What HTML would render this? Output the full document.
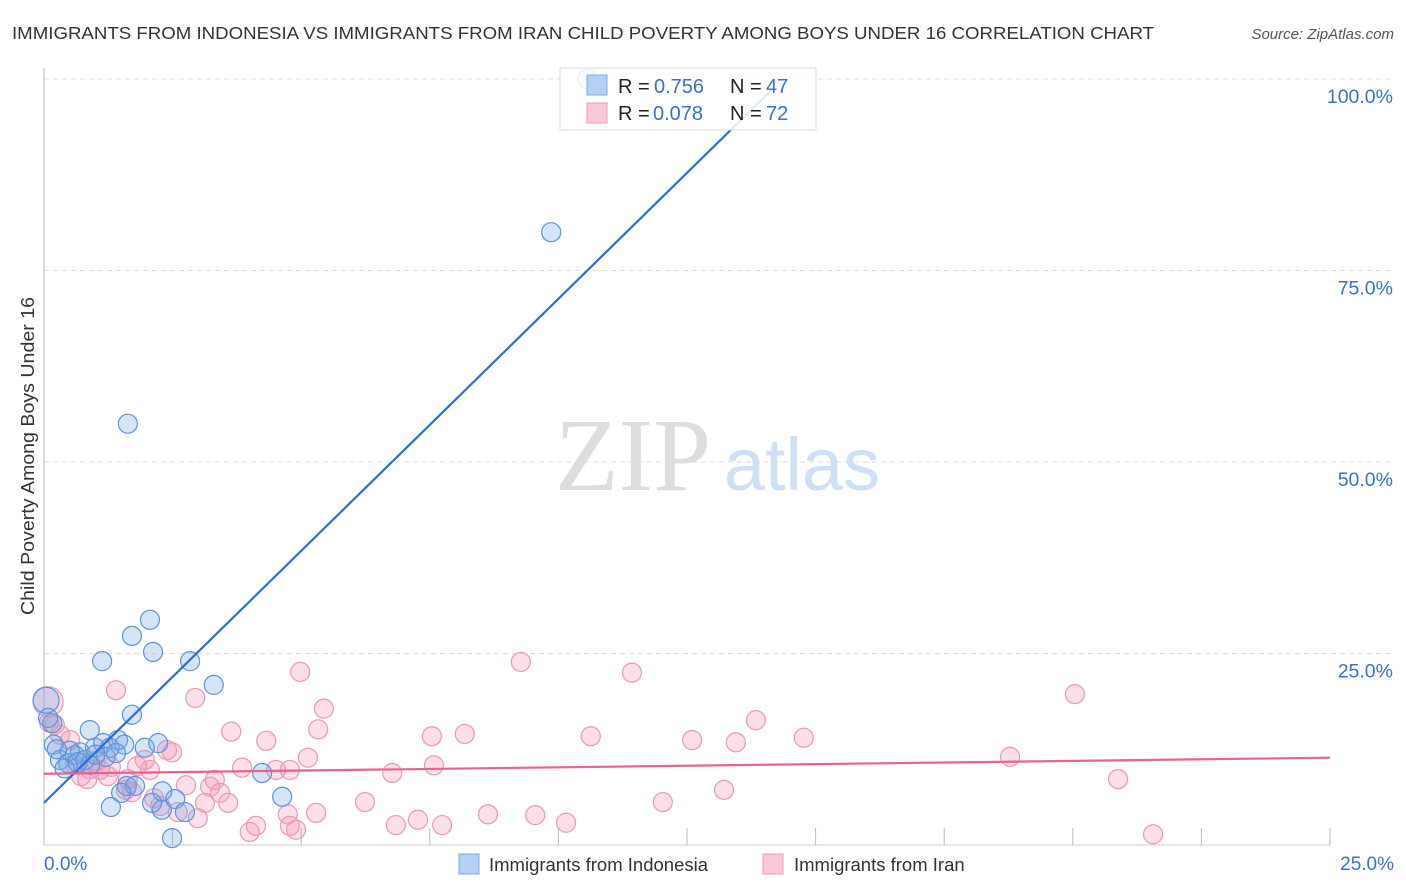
<!DOCTYPE html>
<html><head><meta charset="utf-8"><style>
body{margin:0;background:#fff;font-family:"Liberation Sans",sans-serif;}
svg{display:block}
</style></head><body>
<svg id="chart" width="1406" height="892">
<text x="12" y="39" font-size="17.5" fill="#333" textLength="1142" lengthAdjust="spacingAndGlyphs">IMMIGRANTS FROM INDONESIA VS IMMIGRANTS FROM IRAN CHILD POVERTY AMONG BOYS UNDER 16 CORRELATION CHART</text>
<text x="1394" y="39" font-size="15" fill="#555" font-style="italic" text-anchor="end">Source: ZipAtlas.com</text>
<text transform="translate(34,456) rotate(-90)" font-size="18" fill="#333" text-anchor="middle" textLength="318" lengthAdjust="spacingAndGlyphs">Child Poverty Among Boys Under 16</text>
<g><text x="633" y="490" font-size="104" fill="#ddd" font-family="Liberation Serif,serif" text-anchor="middle">ZIP</text><text x="802" y="490" font-size="74" fill="#cfe0f4" text-anchor="middle">atlas</text></g>
<g id="grid"></g><g id="pts"></g><g id="lines"></g>
<g>
<rect x="560" y="68" width="256" height="62" fill="rgba(255,255,255,0.85)" stroke="#ddd"/>
<rect x="587" y="75" width="20" height="20" fill="#b6d0f5" stroke="#7fa8e6"/>
<rect x="587" y="103" width="20" height="20" fill="#fac8d6" stroke="#ee9bb5"/>
<g font-size="20" fill="#222">
<text x="618" y="93">R =</text><text x="654" y="93" fill="#3b6fd4">0.756</text><text x="730" y="93">N =</text><text x="766" y="93" fill="#3b6fd4">47</text>
<text x="618" y="120">R =</text><text x="653" y="120" fill="#3b6fd4">0.078</text><text x="730" y="120">N =</text><text x="766" y="120" fill="#3b6fd4">72</text>
</g>
</g>
<g>
<rect x="459" y="854" width="20" height="20" fill="#b6d0f5" stroke="#7fa8e6"/>
<text x="489" y="871" font-size="18.5" fill="#333">Immigrants from Indonesia</text>
<rect x="763" y="854" width="20" height="20" fill="#fac8d6" stroke="#ee9bb5"/>
<text x="794" y="871" font-size="18.5" fill="#333">Immigrants from Iran</text>
</g>
</svg>
<script>
const yTicks=[25,50,75,100];
const yTickLabels=["25.0%","50.0%","75.0%","100.0%"];
const xTickLabels=["0.0%","25.0%"];
const blueX=[10.56,9.86,1.63,2.06,1.71,2.12,1.13,2.84,3.30,1.71,0.89,4.24,4.63,1.30,2.55,2.29,2.74,2.49,0.16,0.19,0.31,0.47,0.60,0.70,0.80,0.99,1.15,1.28,1.44,1.56,1.96,2.22,1.61,1.77,0.04,0.08,0.5,0.9,1.2,0.4,2.1,2.3,1.0,0.65,1.4,0.25,1.5];
const blueY=[100,80,55,29.4,27.3,25.2,24,24,20.9,17,15,9.4,6.3,4.96,6.0,4.6,4.3,0.9,15.9,13.1,11.1,10.7,11.7,12.1,11.1,12.7,13.3,12.7,13.7,13.1,12.7,13.3,7.7,7.7,18.9,16.6,12.3,10.5,11.5,10.0,5.5,7.0,11.8,10.8,12.0,12.5,6.8];
const pinkX=[0.08,1.40,2.94,4.98,9.27,11.43,20.04,5.44,3.64,5.33,4.32,7.54,8.18,10.63,12.60,13.45,13.84,14.77,18.78,20.88,5.13,7.58,6.77,3.85,4.51,1.96,1.81,2.39,2.49,1.09,1.24,1.63,2.76,3.32,3.23,3.58,2.14,2.26,3.13,2.99,2.60,4.00,4.12,4.78,4.74,5.29,4.90,6.24,6.84,7.27,7.74,8.63,9.55,10.15,12.03,13.22,21.56,0.72,0.89,0.31,0.21,0.51,1.59,1.71,3.42,2.06,0.84,0.1,1.0,0.6,1.3,4.78];
const pinkY=[18.7,20.2,19.2,22.6,23.9,22.5,19.7,17.8,14.8,15.1,13.6,14.2,14.5,14.2,13.7,13.4,16.3,14.0,11.5,8.6,11.4,10.4,9.4,10.1,9.8,11.1,10.3,12.4,12.1,9.8,9.0,8.6,7.8,8.5,7.6,5.5,6.1,5.1,5.5,3.5,4.3,1.7,2.5,2.5,4.0,4.2,2.0,5.6,2.6,3.3,2.6,4.0,3.9,2.9,5.6,7.2,1.4,9.0,9.9,14.4,15.7,13.7,7.2,6.9,6.8,9.8,8.6,16.0,11.0,10.5,10.2,9.8];
const blueFit=[5.5,6.58];
const pinkFit=[9.3,0.084];
const NS='http://www.w3.org/2000/svg';
const X0=44,X1=1330,Y0=845,Y100=79;
const sx=v=>X0+v/25*(X1-X0);
const sy=v=>Y0-v/100*(Y0-Y100);
function mk(t,a,p){const e=document.createElementNS(NS,t);for(const k in a)e.setAttribute(k,a[k]);p.appendChild(e);return e;}
const grid=document.getElementById('grid');
yTicks.forEach((t,i)=>{
 const l=mk('line',{x1:X0,x2:1394,y1:sy(t),y2:sy(t),stroke:'#ddd','stroke-dasharray':'5,4'},grid);
 
 
 const tx=mk('text',{x:1393,y:sy(t)+24,'font-size':19.5,fill:'#3b6fd4','text-anchor':'end'},grid);
 tx.textContent=yTickLabels[i];
 
 
});
const ax=mk('line',{x1:X0,x2:X0,y1:68,y2:Y0,stroke:'#bbb'},grid);


const bx=mk('line',{x1:X0,x2:X1,y1:Y0,y2:Y0,stroke:'#ccc'},grid);


for(let i=1;i<=10;i++){const tk=mk('line',{x1:sx(i*2.5),x2:sx(i*2.5),y1:828,y2:Y0,stroke:'#bbb'},grid);
 
 }
[[0,'start',44],[25,'end',1394]].forEach((d,i)=>{const t=mk('text',{x:d[2],y:870,'font-size':19,fill:'#3b6fd4','text-anchor':d[1]},grid);t.textContent=xTickLabels[i];
 
 });
const pts=document.getElementById('pts');
pinkX.forEach((x,i)=>{const c=mk('circle',{cx:sx(x),cy:sy(pinkY[i]),r:i==0?15:9.5,fill:'rgba(245,150,180,0.3)',stroke:'#ec9ab4','stroke-width':1.2},pts);
 
 });
blueX.forEach((x,i)=>{const c=mk('circle',{cx:sx(x),cy:sy(blueY[i]),r:i==34?13:9.5,fill:'rgba(120,165,230,0.3)',stroke:'#5f93dc','stroke-width':1.2},pts);
 
 });
const lines=document.getElementById('lines');
const bxEnd=(100-blueFit[0])/blueFit[1]*0.985;
const bl=mk('line',{x1:sx(0),y1:sy(blueFit[0]),x2:sx(bxEnd),y2:sy(blueFit[0]+blueFit[1]*bxEnd),stroke:'#2a6fd6','stroke-width':2.2},lines);


const pl=mk('line',{x1:sx(0),y1:sy(pinkFit[0]),x2:sx(25),y2:sy(pinkFit[0]+pinkFit[1]*25),stroke:'#e8638f','stroke-width':2.2},lines);


</script>
</body></html>
